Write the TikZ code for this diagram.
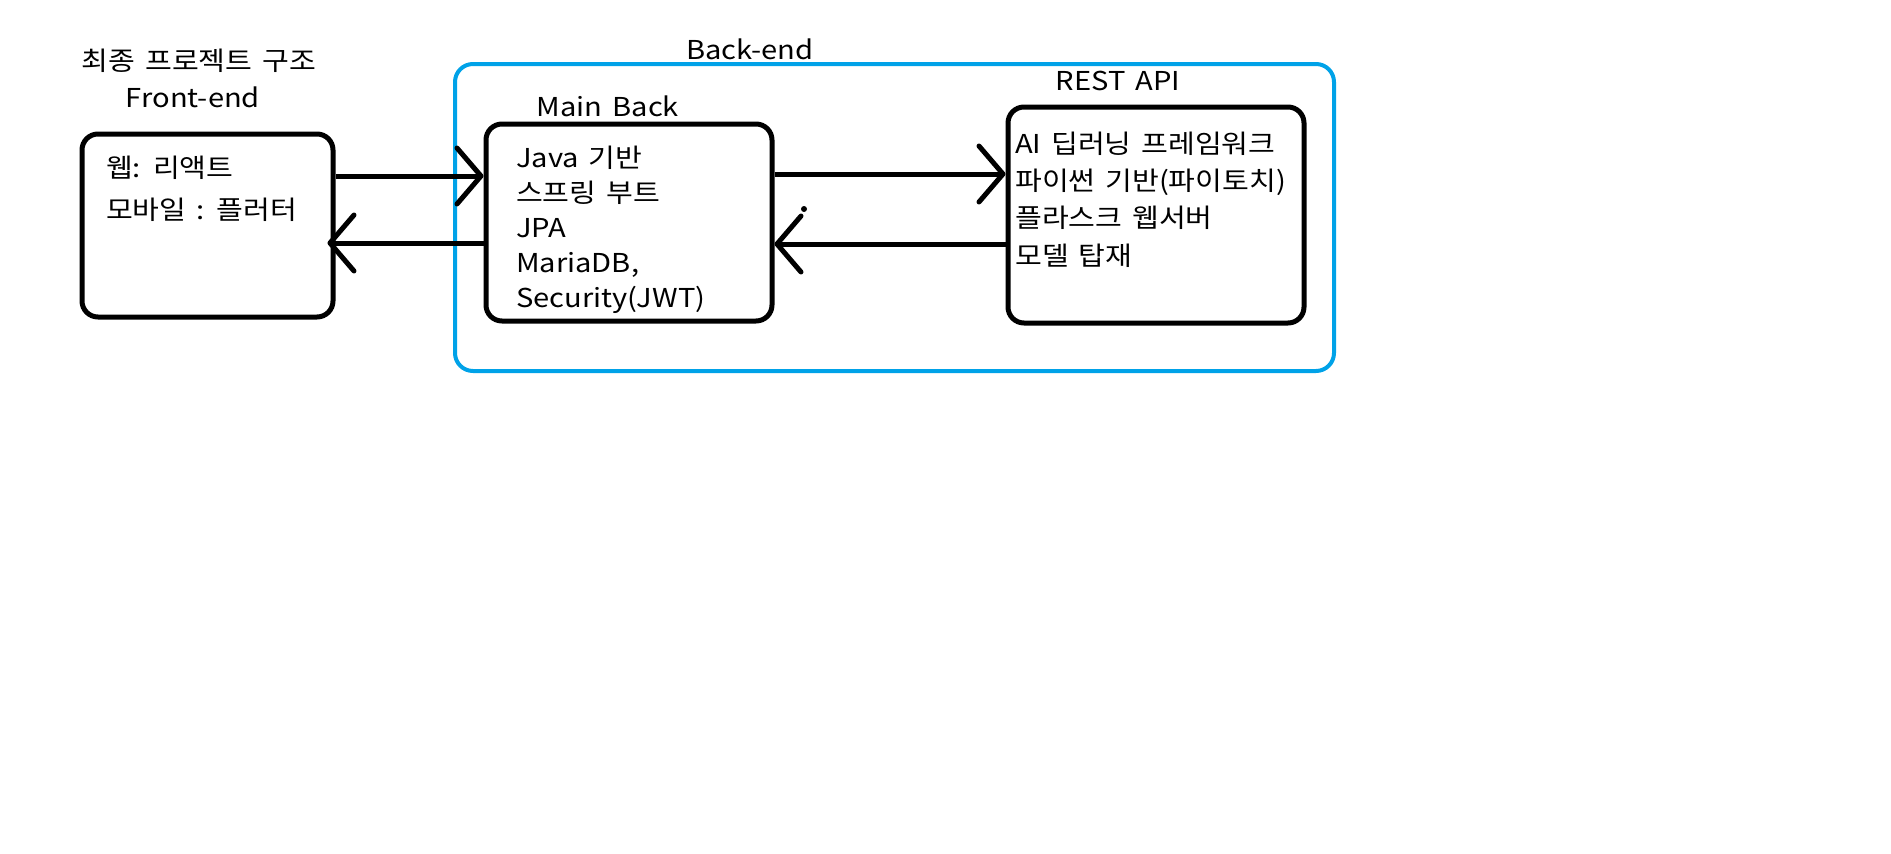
\documentclass[tikz,border=0pt]{standalone}
\usepackage{fontspec}
\setmainfont{Noto Sans CJK KR}[FakeStretch=1.12]
\usetikzlibrary{arrows.meta}
\definecolor{backblue}{RGB}{0,162,232}
\newcommand{\diagfont}{\fontsize{26}{30}\selectfont\spaceskip 0.38em plus 0pt\relax}

\begin{document}
\begin{tikzpicture}[x=1pt, y=-1pt,
    box/.style = {draw, line width=5pt, rounded corners=16pt, inner sep=0pt},
    item/.style = {anchor=base west, inner sep=0pt, font=\diagfont},
    label/.style = {anchor=base, inner sep=0pt, font=\diagfont},
    link/.style = {line width=5pt, -{Straight Barb[length=24pt, width=56pt, round]}}]

      \useasboundingbox (0,0) rectangle (1891,854);

      % outer back-end frame
      \node[draw=backblue, line width=4pt, rounded corners=18pt, minimum width=879pt, minimum height=307pt] (backend) at (894.5,217.5) {};

      \node[box, minimum width=251pt, minimum height=183pt] (front) at (207.5,225.5) {};
      \node[box, minimum width=286pt, minimum height=197pt] (main) at (629,222.5) {};
      \node[box, minimum width=296pt, minimum height=216pt] (rest) at (1156,215) {};

      \node[label] (title) at (199,70) {최종 프로젝트 구조};
      \node[label] (front-lbl) at (193,107) {Front-end};
      \node[label] (backend-lbl) at (750,59) {Back-end};
      \node[label] (main-lbl) at (608,116) {Main Back};
      \node[label] (rest-lbl) at (1118,90) {REST API};

      \foreach \txt [count=\i] in {웹: 리액트, 모바일 : 플러터}
        \node[item] (front-\i) at (106, 135+42*\i) {\txt};

      \foreach \txt [count=\i] in {Java 기반, 스프링 부트, JPA, {MariaDB,}, Security(JWT)}
        \node[item] (main-\i) at (516, 132+35*\i) {\txt};

      \foreach \txt [count=\i] in {AI 딥러닝 프레임워크, 파이썬 기반(파이토치), 플라스크 웹서버, 모델 탑재}
        \node[item] (rest-\i) at (1015, 115.6+37.4*\i) {\txt};

      \draw[link] ([yshift=49.5pt]front.east) -- ([yshift=46.5pt]main.west);
      \draw[link] ([yshift=-20.5pt]main.west) -- ([yshift=-17.5pt, xshift=-8pt]front.east);
      \draw[link] ([yshift=48.5pt]main.east) -- ([yshift=41pt]rest.west);
      \draw[link] ([yshift=-29pt]rest.west) -- ([yshift=-21.5pt]main.east);

      \fill (804,209) circle (3pt);

\end{tikzpicture}
\end{document}
